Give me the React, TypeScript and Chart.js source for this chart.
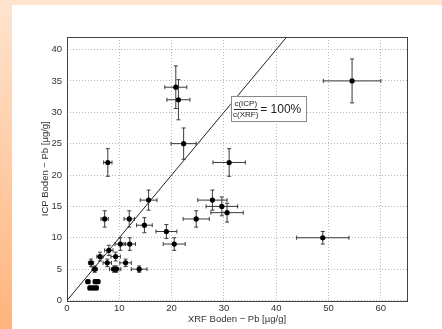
import React, { useEffect, useRef } from "react";
import { Chart, registerables } from "chart.js";

Chart.register(...registerables);

// XRF (x) vs ICP (y) lead concentrations with uncertainties
const XRF = [54.5, 20.8, 21.3, 22.3, 7.8, 31.0, 15.6, 27.8, 29.6, 30.6, 7.2, 11.9, 24.7, 14.8, 19.0, 48.9, 10.2, 12.0, 20.5, 8.0, 6.3, 9.3, 4.6, 7.7, 11.2, 5.3, 9.0, 9.4, 13.8, 4.0, 5.4, 5.9, 4.4, 5.0, 5.6];
const ICP = [35, 34, 32, 25, 22, 22, 16, 16, 15, 14, 13, 13, 13, 12, 11, 10, 9, 9, 9, 8, 7, 7, 6, 6, 6, 5, 5, 5, 5, 3, 3, 3, 2, 2, 2];
const XRF_ERR = [5.5, 2.1, 2.2, 2.4, 0.8, 3.1, 1.6, 2.8, 3.0, 3.1, 0.7, 1.0, 2.5, 1.5, 2.0, 5.0, 1.0, 1.1, 2.1, 0.8, 0.6, 0.9, 0.5, 0.8, 1.1, 0.5, 0.9, 0.9, 1.5, 0.4, 0.4, 0.4, 0.4, 0.4, 0.4];
const ICP_ERR = [3.5, 3.4, 3.2, 2.5, 2.2, 2.2, 1.6, 1.6, 1.5, 1.5, 1.3, 1.3, 1.3, 1.2, 1.1, 1.0, 1.0, 1.0, 1.0, 0.8, 0.7, 0.7, 0.6, 0.6, 0.6, 0.5, 0.5, 0.5, 0.5, 0.3, 0.3, 0.3, 0.3, 0.3, 0.3];

// 1:1 reference line
const LINE_X = [0, 65];

const X_TICKS = [0, 10, 20, 30, 40, 50, 60];
const Y_TICKS = [0, 5, 10, 15, 20, 25, 30, 35, 40];
const X_MAX = 65;
const Y_MAX = 42;

const X_TITLE = "XRF Boden \u2212 Pb [\u00b5g/g]";
const Y_TITLE = "ICP Boden \u2212 Pb [\u00b5g/g]";
const NOTE_NUM = "c(ICP)";
const NOTE_DEN = "c(XRF)";
const NOTE_RHS = "= 100%";
const NOTE_ANCHOR = { x: 31.3, y: 32.6 };

const FONT = "'Liberation Sans', Arial, Helvetica, sans-serif";

const errorBars = {
  id: "errorBars",
  beforeDatasetsDraw(chart: any) {
    const { ctx, chartArea, scales } = chart;
    const xs = scales.x;
    const ys = scales.y;
    ctx.save();
    ctx.beginPath();
    ctx.rect(chartArea.left, chartArea.top, chartArea.right - chartArea.left, chartArea.bottom - chartArea.top);
    ctx.clip();
    ctx.strokeStyle = "#3a3a3a";
    ctx.lineWidth = 1;
    const cap = 2;
    for (let i = 0; i < XRF.length; i++) {
      const px = xs.getPixelForValue(XRF[i]);
      const py = ys.getPixelForValue(ICP[i]);
      const x1 = xs.getPixelForValue(XRF[i] - XRF_ERR[i]);
      const x2 = xs.getPixelForValue(XRF[i] + XRF_ERR[i]);
      const y1 = ys.getPixelForValue(ICP[i] - ICP_ERR[i]);
      const y2 = ys.getPixelForValue(ICP[i] + ICP_ERR[i]);
      ctx.beginPath();
      ctx.moveTo(x1, py); ctx.lineTo(x2, py);
      ctx.moveTo(x1, py - cap); ctx.lineTo(x1, py + cap);
      ctx.moveTo(x2, py - cap); ctx.lineTo(x2, py + cap);
      ctx.moveTo(px, y1); ctx.lineTo(px, y2);
      ctx.moveTo(px - cap, y1); ctx.lineTo(px + cap, y1);
      ctx.moveTo(px - cap, y2); ctx.lineTo(px + cap, y2);
      ctx.stroke();
    }
    ctx.restore();
  },
};

const frame = {
  id: "frame",
  afterDraw(chart: any) {
    const { ctx, chartArea } = chart;
    const { left, top, right, bottom } = chartArea;
    ctx.save();
    ctx.strokeStyle = "#444";
    ctx.lineWidth = 1;
    ctx.strokeRect(Math.round(left) + 0.5, Math.round(top) + 0.5, Math.round(right - left), Math.round(bottom - top));

    // annotation box
    const bx = chart.scales.x.getPixelForValue(NOTE_ANCHOR.x);
    const by = chart.scales.y.getPixelForValue(NOTE_ANCHOR.y);
    const w = 75;
    const h = 25;
    ctx.fillStyle = "#fff";
    ctx.fillRect(bx, by, w, h);
    ctx.strokeStyle = "#888";
    ctx.strokeRect(Math.round(bx) + 0.5, Math.round(by) + 0.5, w, h);
    ctx.fillStyle = "#222";
    ctx.textAlign = "center";
    ctx.textBaseline = "middle";
    ctx.font = `8px ${FONT}`;
    const fx = bx + 15;
    ctx.fillText(NOTE_NUM, fx, by + 7.5);
    ctx.fillText(NOTE_DEN, fx, by + 19);
    ctx.beginPath();
    ctx.strokeStyle = "#222";
    ctx.moveTo(bx + 3, by + 13.5);
    ctx.lineTo(bx + 27, by + 13.5);
    ctx.stroke();
    ctx.textAlign = "left";
    ctx.font = `12px ${FONT}`;
    ctx.fillText(NOTE_RHS, bx + 29.5, by + 14);
    ctx.restore();
  },
};

export default function App() {
  const ref = useRef<HTMLCanvasElement | null>(null);

  useEffect(() => {
    if (!ref.current) return;
    Chart.defaults.font.family = FONT;
    const chart = new Chart(ref.current, {
      type: "scatter",
      data: {
        datasets: [
          {
            type: "line",
            data: LINE_X.map((v) => ({ x: v, y: v })),
            borderColor: "#222",
            borderWidth: 1,
            pointRadius: 0,
            fill: false,
            order: 2,
          } as any,
          {
            data: XRF.map((x, i) => ({ x, y: ICP[i] })),
            backgroundColor: "#000",
            borderColor: "#000",
            pointRadius: 2.6,
            pointBorderWidth: 0,
            order: 1,
          },
        ],
      },
      options: {
        animation: false,
        responsive: false,
        maintainAspectRatio: false,
        events: [],
        layout: { padding: { left: 36, right: 35, top: 37, bottom: 0 } },
        plugins: { legend: { display: false }, tooltip: { enabled: false } },
        scales: {
          x: {
            type: "linear",
            min: 0,
            max: X_MAX,
            afterBuildTicks: (s: any) => { s.ticks = X_TICKS.map((v) => ({ value: v })); },
            afterFit: (s: any) => { s.height = 28.5; },
            ticks: { color: "#333", font: { size: 9.5 }, padding: 2 },
            grid: { color: "#b8b8b8", drawTicks: false, lineWidth: 1 },
            border: { display: false, dash: [1, 2] },
            title: { display: true, text: X_TITLE, color: "#333", font: { size: 9.5 }, padding: { top: 2, bottom: 4 } },
          },
          y: {
            type: "linear",
            min: 0,
            max: Y_MAX,
            afterBuildTicks: (s: any) => { s.ticks = Y_TICKS.map((v) => ({ value: v })); },
            afterFit: (s: any) => { s.width = 31; },
            ticks: { color: "#333", font: { size: 9.5 }, padding: 5 },
            grid: { color: "#b8b8b8", drawTicks: false, lineWidth: 1 },
            border: { display: false, dash: [1, 2] },
            title: { display: true, text: Y_TITLE, color: "#333", font: { size: 9.5 }, padding: { top: 4, bottom: 2 } },
          },
        },
      },
      plugins: [errorBars, frame],
    });
    return () => chart.destroy();
  }, []);

  return (
    <div
      style={{
        position: "fixed",
        left: 0,
        top: 0,
        width: 442,
        height: 329,
        overflow: "hidden",
        background: "linear-gradient(to bottom, #ffe4cf 0%, #ffcaa2 55%, #ffb47c 100%)",
      }}
    >
      <div style={{ position: "absolute", left: 12, top: 5, right: 0, bottom: 0, background: "#fff" }} />
      <canvas
        ref={ref}
        width={442}
        height={329}
        style={{ position: "absolute", left: 0, top: 0, width: 442, height: 329 }}
      />
    </div>
  );
}
